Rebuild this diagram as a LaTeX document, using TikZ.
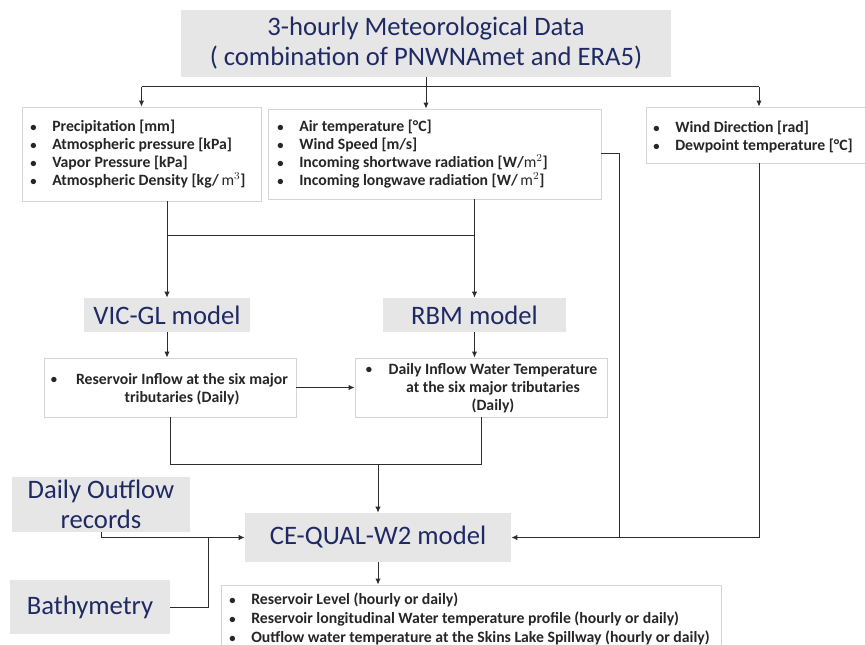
\documentclass[tikz,border=0pt]{standalone}
\usepackage{fontspec}
\setmainfont{Carlito}
\usetikzlibrary{arrows.meta,calc}
\definecolor{navy}{RGB}{31,42,100}
\definecolor{fillg}{RGB}{231,230,230}
\definecolor{bord}{RGB}{212,212,212}
\definecolor{txt}{RGB}{38,38,38}
\definecolor{ln}{RGB}{45,45,45}
\newcommand\bl{\makebox[16.5pt][l]{\scalebox{0.8}{•}}}
\tikzset{
  graybox/.style={fill=fillg, draw=none, inner sep=0pt, text=navy, align=center},
  listbox/.style={draw=bord, fill=white, line width=0.6pt, inner sep=0pt},
  bodytext/.style={font=\fontsize{11.8}{13.5}\selectfont\bfseries, text=txt, align=left, inner sep=0pt},
  conn/.style={draw=ln, line width=0.75pt},
  arr/.style={conn, -{Latex[length=4.5pt,width=4pt]}},
  bigfont/.style={font=\fontsize{20}{22.5}\selectfont}
}
\begin{document}
\begin{tikzpicture}[x=0.75pt,y=-0.75pt]
\useasboundingbox (0,0) rectangle (865,645);
\fill[white] (0,0) rectangle (865,645);

% title
\node[graybox, bigfont, minimum width=367.5pt, minimum height=50.25pt] (title) at (426,43.5) {3-hourly Meteorological Data\\( combination of PNWNAmet and ERA5)};

% top list boxes
\node[listbox, minimum width=179.25pt, minimum height=70.5pt] (b1) at (141.5,154) {};
\node[bodytext, anchor=west] (t1) at (30,154) {\bl Precipitation [mm]\\\bl Atmospheric pressure [kPa]\\\bl Vapor Pressure [kPa]\\\bl Atmospheric Density [kg/\,$\mathrm{m}^3$]};

\node[listbox, minimum width=249.75pt, minimum height=67.5pt] (b2) at (434.5,154) {};
\node[bodytext, anchor=west] (t2) at (277,154) {\bl Air temperature [°C]\\\bl Wind Speed [m/s]\\\bl Incoming shortwave radiation [W/$\mathrm{m}^2$]\\\bl Incoming longwave radiation [W/\,$\mathrm{m}^2$]};

\node[listbox, minimum width=169.5pt, minimum height=42pt] (b3) at (759,135) {};
\node[bodytext, anchor=west] (t3) at (653,137) {\bl Wind Direction [rad]\\\bl Dewpoint temperature [°C]};

% model boxes
\node[graybox, bigfont, minimum width=124.5pt, minimum height=25.5pt] (vic) at (167,315) {VIC-GL model};
\node[graybox, bigfont, minimum width=137.25pt, minimum height=25.5pt] (rbm) at (474.5,315) {RBM model};

% middle outputs
\node[listbox, minimum width=189pt, minimum height=44.25pt] (inb) at (170,387.5) {};
\node[bodytext] (inbul) at (54,380) {\scalebox{0.8}{•}};
\node[bodytext, align=center] (intx) at (182,389) {Reservoir Inflow at the six major\\tributaries (Daily)};

\node[listbox, minimum width=189pt, minimum height=44.25pt] (rtb) at (481,387.5) {};
\node[bodytext] (rtbul) at (369,370) {\scalebox{0.8}{•}};
\node[bodytext, align=center] (rttx) at (493,388) {Daily Inflow Water Temperature\\at the six major tributaries\\(Daily)};

% CE-QUAL and inputs
\node[graybox, bigfont, minimum width=199.5pt, minimum height=36.75pt] (ce) at (378,537.5) {CE-QUAL-W2 model};
\node[graybox, bigfont, minimum width=133.5pt, minimum height=41.25pt] (dof) at (101,504.5) {Daily Outflow\\records};
\node[graybox, bigfont, minimum width=120pt, minimum height=40.5pt] (bath) at (90,607) {Bathymetry};

% output box
\node[listbox, minimum width=375pt, minimum height=56.25pt] (outb) at (471,622.5) {};
\node[bodytext, anchor=west, font=\fontsize{11.8}{14.25}\selectfont\bfseries] (outtx) at (229,619) {\bl Reservoir Level (hourly or daily)\\\bl Reservoir longitudinal Water temperature profile (hourly or daily)\\\bl Outflow water temperature at the Skins Lake Spillway (hourly or daily)};

% coordinates
\coordinate (hy) at (0,87);
\coordinate (h2) at (0,236);
\coordinate (h3) at (0,465);
\coordinate (rx) at (619,0);
\coordinate (jx) at (208,0);

% connectors top
\draw[arr] (title.south) -- (title.south |- b2.north);
\draw[conn] (b1.north |- hy) -- (b3.north |- hy);
\draw[arr] (b1.north |- hy) -- (b1.north);
\draw[arr] (b3.north |- hy) -- (b3.north);

% to models
\draw[arr] (vic.north |- b1.south) -- (vic.north);
\draw[arr] (rbm.north |- b2.south) -- (rbm.north);
\draw[conn] (vic.north |- h2) -- (rbm.north |- h2);

% models to outputs
\draw[arr] (vic.south) -- (vic.south |- inb.north);
\draw[arr] (rbm.south) -- (rbm.south |- rtb.north);
\draw[arr] (inb.east) -- (rtb.west);

% outputs to CE-QUAL
\draw[conn] (inb.south) -- (inb.south |- h3) -- (rtb.south |- h3) -- (rtb.south);
\draw[arr] (ce.north |- h3) -- (ce.north);

% right side
\draw[arr] (b2.east) -| (rx |- ce.east) -- (ce.east);
\draw[conn] (b3.south) |- (rx |- ce.east);

% left side
\draw[arr] (dof.south) |- (ce.west);
\draw[conn] (bath.east) -| (jx |- ce.west);

% to output
\draw[arr] (ce.south) -- (outb.north -| ce.south);
\end{tikzpicture}
\end{document}
